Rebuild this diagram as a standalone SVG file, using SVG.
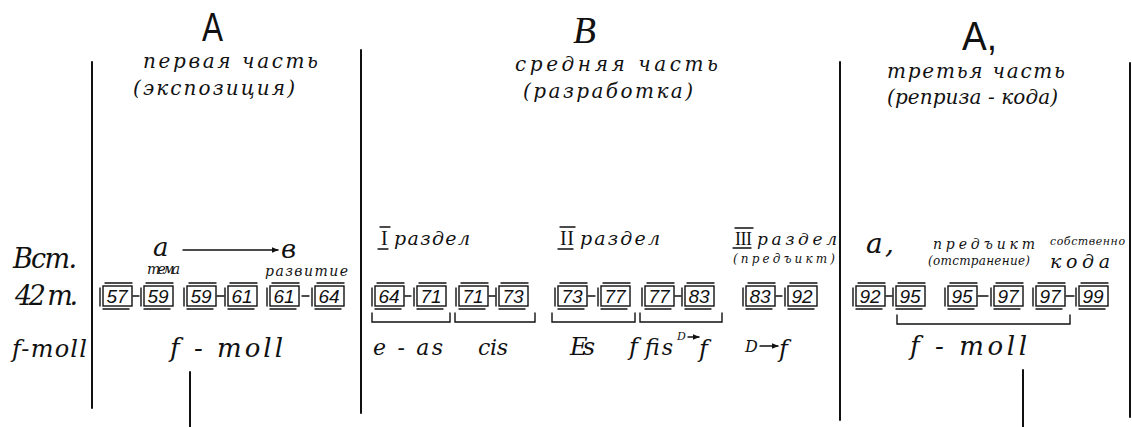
<svg xmlns="http://www.w3.org/2000/svg" xmlns:xlink="http://www.w3.org/1999/xlink" width="1132" height="427" viewBox="0 0 1132 427">
<style>
.bg{fill:#ffffff}
.cur{font-family:"DejaVu Serif","Liberation Serif",serif;font-style:italic;fill:#111}
.rom{font-family:"Liberation Serif","DejaVu Serif",serif;fill:#111}
.big{font-family:"Liberation Sans","DejaVu Sans",sans-serif;fill:#111}
.num{font-family:"Liberation Sans","DejaVu Sans",sans-serif;font-style:italic;font-size:19px;fill:#111;text-anchor:middle}
.ln{stroke:#111;stroke-width:2;fill:none;stroke-linecap:round}
.thin{stroke:#111;stroke-width:1.4;fill:none;stroke-linecap:round}
</style>
<defs>
<g id="box">
<rect x="-14" y="0" width="29" height="20" class="thin"/>
<line x1="-12" y1="-3" x2="15" y2="-3" class="thin"/>
<line x1="-14" y1="23" x2="12" y2="23" class="thin"/>
<line x1="-17" y1="2" x2="-17" y2="20" class="thin"/>
</g>
<marker id="ah" viewBox="0 0 10 10" refX="9" refY="5" markerWidth="7" markerHeight="7" orient="auto" markerUnits="userSpaceOnUse">
<path d="M0,1 L10,5 L0,9 Z" fill="#111"/>
</marker>
</defs>
<rect class="bg" x="0" y="0" width="1132" height="427"/>

<g id="dividers">
<line class="ln" x1="92" y1="62" x2="92" y2="408"/>
<line class="ln" x1="361" y1="50" x2="361" y2="413"/>
<line class="ln" x1="840" y1="62" x2="840" y2="420"/>
<line class="ln" x1="1130" y1="63" x2="1130" y2="417"/>
<line class="ln" x1="190" y1="372" x2="190" y2="427"/>
<line class="ln" x1="1023" y1="370" x2="1023" y2="427"/>
</g>

<g id="part-A">
<text class="big" x="202" y="41" font-size="40" textLength="21" lengthAdjust="spacingAndGlyphs">A</text>
<text class="cur" x="143" y="68" font-size="20" textLength="175" lengthAdjust="spacing">первая часть</text>
<text class="cur" x="133" y="95" font-size="20" textLength="162" lengthAdjust="spacing">(экспозиция)</text>
</g>
<g id="part-B">
<text class="rom" x="573" y="43" font-size="38" font-style="italic" textLength="23" lengthAdjust="spacingAndGlyphs">B</text>
<text class="cur" x="515" y="71" font-size="20" textLength="203" lengthAdjust="spacing">средняя часть</text>
<text class="cur" x="523" y="98" font-size="20" textLength="170" lengthAdjust="spacing">(разработка)</text>
</g>
<g id="part-A1">
<text class="big" x="962" y="50" font-size="40" textLength="35" lengthAdjust="spacingAndGlyphs">A,</text>
<text class="cur" x="887" y="78" font-size="20" textLength="178" lengthAdjust="spacing">третья часть</text>
<text class="cur" x="887" y="104" font-size="20" textLength="171" lengthAdjust="spacing">(реприза - кода)</text>
</g>

<g id="row-labels">
<text class="cur" x="13" y="268" font-size="27" textLength="64" lengthAdjust="spacing">Вст.</text>
<text class="cur" x="15" y="305" font-size="27" textLength="63" lengthAdjust="spacing">42 т.</text>
<text class="cur" x="12" y="357" font-size="24" textLength="75" lengthAdjust="spacing">f-moll</text>
</g>

<g id="theme-a">
<text class="cur" x="153" y="256" font-size="26">a</text>
<text class="cur" x="147" y="274" font-size="14" textLength="33" lengthAdjust="spacing">тема</text>
</g>
<g id="theme-b">
<text class="cur" x="281" y="258" font-size="26">в</text>
<text class="cur" x="265" y="276" font-size="14" textLength="83" lengthAdjust="spacing">развитие</text>
</g>

<g id="section-1">
<line class="thin" x1="380" y1="227" x2="390" y2="227"/>
<line class="thin" x1="378" y1="249" x2="388" y2="249"/>
<text class="rom" x="381" y="245" font-size="20">I</text>
<text class="cur" x="394" y="245" font-size="19" textLength="76" lengthAdjust="spacing">раздел</text>
</g>
<g id="section-2">
<line class="thin" x1="560" y1="227" x2="575" y2="227"/>
<line class="thin" x1="558" y1="249" x2="573" y2="249"/>
<text class="rom" x="560" y="245" font-size="20" textLength="14" lengthAdjust="spacing">II</text>
<text class="cur" x="580" y="245" font-size="19" textLength="80" lengthAdjust="spacing">раздел</text>
</g>
<g id="section-3">
<line class="thin" x1="735" y1="228" x2="753" y2="228"/>
<line class="thin" x1="733" y1="248" x2="751" y2="248"/>
<text class="rom" x="735" y="245" font-size="18" textLength="17" lengthAdjust="spacing">III</text>
<text class="cur" x="757" y="245" font-size="17" textLength="80" lengthAdjust="spacing">раздел</text>
<text class="cur" x="733" y="263" font-size="12" textLength="102" lengthAdjust="spacing">(предъикт)</text>
</g>

<g id="coda-a1">
<text class="cur" x="866" y="253" font-size="28" textLength="28" lengthAdjust="spacing">a,</text>
</g>
<g id="coda-predict">
<text class="cur" x="933" y="249" font-size="14" textLength="102" lengthAdjust="spacing">предъикт</text>
<text class="cur" x="928" y="265" font-size="12" textLength="102" lengthAdjust="spacing">(отстранение)</text>
</g>
<g id="coda-proper">
<text class="cur" x="1050" y="245" font-size="11" textLength="75" lengthAdjust="spacing">собственно</text>
<text class="cur" x="1050" y="268" font-size="19" textLength="60" lengthAdjust="spacing">кода</text>
</g>

<g id="bars-A">
<use xlink:href="#box" x="117" y="286"/><text class="num" x="117" y="303">57</text>
<use xlink:href="#box" x="158" y="286"/><text class="num" x="158" y="303">59</text>
<use xlink:href="#box" x="201" y="286"/><text class="num" x="201" y="303">59</text>
<use xlink:href="#box" x="242" y="286"/><text class="num" x="242" y="303">61</text>
<use xlink:href="#box" x="284" y="286"/><text class="num" x="284" y="303">61</text>
<use xlink:href="#box" x="329" y="286"/><text class="num" x="329" y="303">64</text>
</g>
<g id="bars-B">
<use xlink:href="#box" x="389" y="286"/><text class="num" x="389" y="303">64</text>
<use xlink:href="#box" x="431" y="286"/><text class="num" x="431" y="303">71</text>
<use xlink:href="#box" x="473" y="286"/><text class="num" x="473" y="303">71</text>
<use xlink:href="#box" x="513" y="286"/><text class="num" x="513" y="303">73</text>
<use xlink:href="#box" x="572" y="286"/><text class="num" x="572" y="303">73</text>
<use xlink:href="#box" x="615" y="286"/><text class="num" x="615" y="303">77</text>
<use xlink:href="#box" x="659" y="286"/><text class="num" x="659" y="303">77</text>
<use xlink:href="#box" x="699" y="286"/><text class="num" x="699" y="303">83</text>
<use xlink:href="#box" x="760" y="286"/><text class="num" x="760" y="303">83</text>
<use xlink:href="#box" x="802" y="286"/><text class="num" x="802" y="303">92</text>
</g>
<g id="bars-A1">
<use xlink:href="#box" x="870" y="286"/><text class="num" x="870" y="303">92</text>
<use xlink:href="#box" x="910" y="286"/><text class="num" x="910" y="303">95</text>
<use xlink:href="#box" x="962" y="286"/><text class="num" x="962" y="303">95</text>
<use xlink:href="#box" x="1008" y="286"/><text class="num" x="1008" y="303">97</text>
<use xlink:href="#box" x="1050" y="286"/><text class="num" x="1050" y="303">97</text>
<use xlink:href="#box" x="1093" y="286"/><text class="num" x="1093" y="303">99</text>
</g>

<g id="keys">
<text class="cur" x="170" y="357" font-size="26" textLength="113" lengthAdjust="spacing">f - moll</text>
<text class="cur" x="373" y="355" font-size="22" textLength="70" lengthAdjust="spacing">e - as</text>
<text class="cur" x="478" y="355" font-size="22" textLength="30" lengthAdjust="spacing">cis</text>
<text class="cur" x="570" y="355" font-size="24" textLength="25" lengthAdjust="spacing">Es</text>
<text class="cur" x="629" y="355" font-size="24">f</text>
<text class="cur" x="645" y="355" font-size="22" textLength="28" lengthAdjust="spacing">fis</text>
<text class="cur" x="677" y="340" font-size="11">D</text>
<text class="cur" x="699" y="357" font-size="24">f</text>
<text class="cur" x="745" y="352" font-size="16">D</text>
<text class="cur" x="779" y="357" font-size="24">f</text>
<text class="cur" x="910" y="355" font-size="26" textLength="117" lengthAdjust="spacing">f - moll</text>
</g>

<g id="connectors">
<line class="thin" x1="183" y1="250" x2="278" y2="250" marker-end="url(#ah)"/>
<line class="thin" x1="688" y1="337" x2="699" y2="337" marker-end="url(#ah)"/>
<line class="thin" x1="760" y1="346" x2="778" y2="346" marker-end="url(#ah)"/>
<g id="dashes">
<line class="thin" x1="133" y1="296" x2="139" y2="296"/>
<line class="thin" x1="217" y1="296" x2="224" y2="296"/>
<line class="thin" x1="302" y1="296" x2="309" y2="296"/>
<line class="thin" x1="405" y1="296" x2="411" y2="296"/>
<line class="thin" x1="489" y1="296" x2="495" y2="296"/>
<line class="thin" x1="588" y1="296" x2="595" y2="296"/>
<line class="thin" x1="675" y1="296" x2="681" y2="296"/>
<line class="thin" x1="776" y1="296" x2="782" y2="296"/>
<line class="thin" x1="886" y1="296" x2="892" y2="296"/>
<line class="thin" x1="978" y1="296" x2="988" y2="296"/>
<line class="thin" x1="1066" y1="296" x2="1074" y2="296"/>
</g>
<g id="brackets">
<path class="thin" d="M372,313 V322 H450 V313"/>
<path class="thin" d="M455,313 V322 H535 V313"/>
<path class="thin" d="M552,313 V322 H635 V313"/>
<path class="thin" d="M640,313 V322 H722 V313"/>
<path class="thin" d="M897,315 V324 H1070 V315"/>
</g>
</g>
</svg>
